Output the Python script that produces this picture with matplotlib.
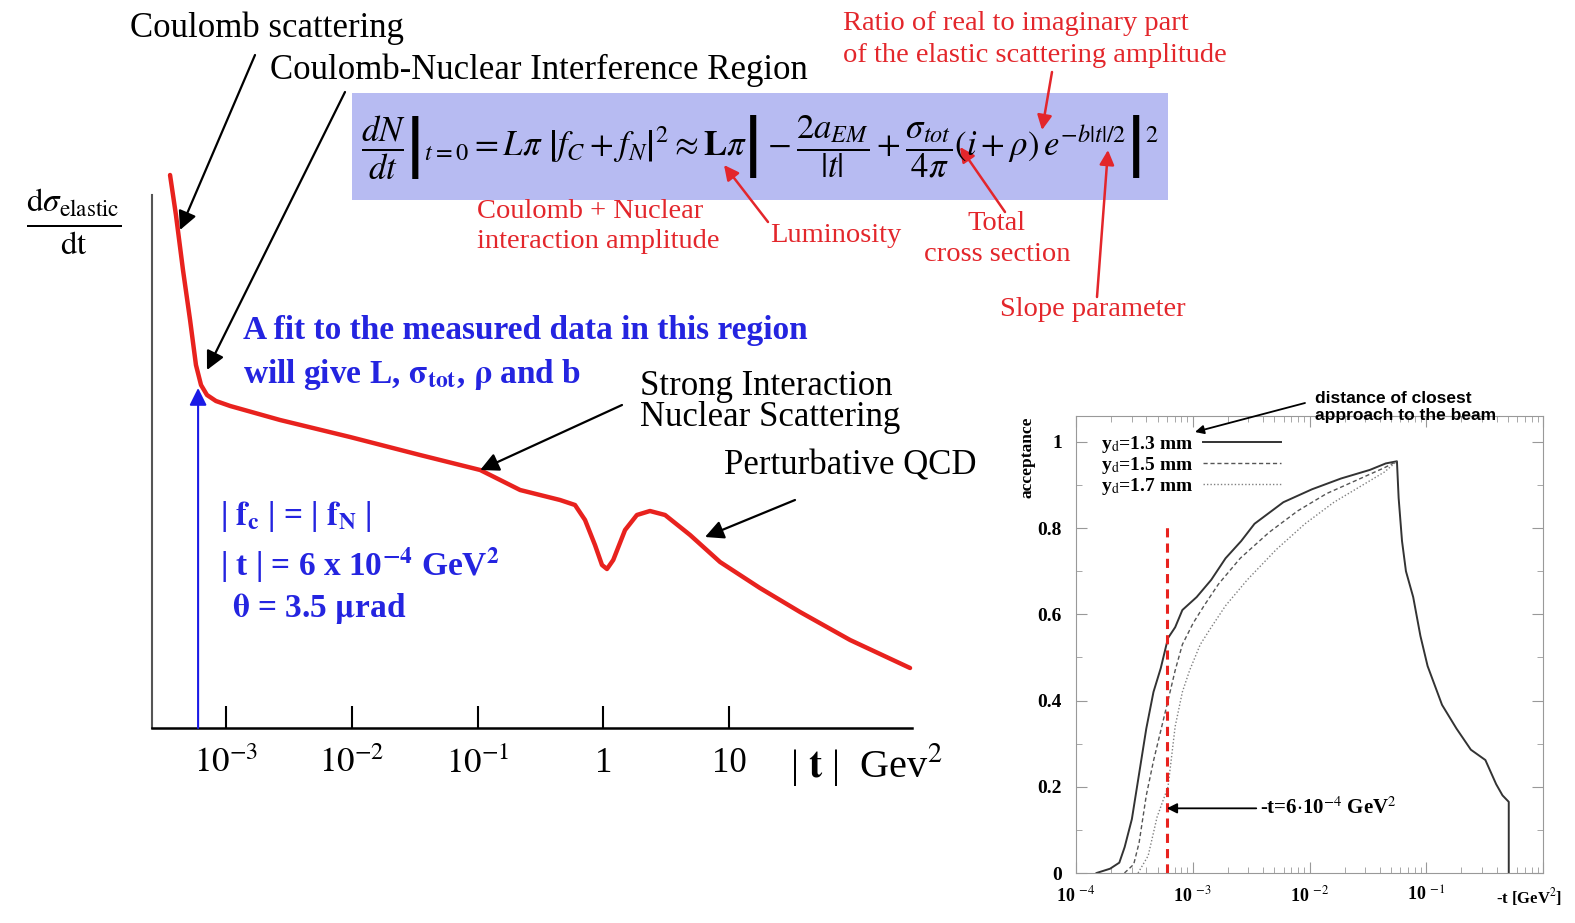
import matplotlib
matplotlib.use('Agg')
import matplotlib.pyplot as plt
from matplotlib.patches import Rectangle, FancyArrowPatch
from matplotlib.ticker import NullLocator, LogLocator, MultipleLocator
from matplotlib.transforms import ScaledTranslation

plt.rcParams['font.family'] = ['Liberation Serif', 'DejaVu Serif']
plt.rcParams['mathtext.fontset'] = 'stix'

W, H = 1575, 923

# main sketch: |t| [GeV^2] vs d(sigma)/dt (arbitrary units)
t_main = [3.59e-4, 4.0e-4, 4.55e-4, 5.18e-4, 5.77e-4, 6.33e-4, 7.06e-4, 8.32e-4,
          1.08e-3, 2.69e-3, 9.68e-3, 0.0349, 0.105, 0.218, 0.453, 0.596, 0.716,
          0.859, 0.977, 1.07, 1.20, 1.49, 1.85, 2.35, 3.10, 4.90, 8.48, 17.6,
          36.7, 91.7, 275]
dsig_main = [110.6, 102.6, 91.6, 81.6, 72.6, 68.6, 66.6, 65.4,
             64.4, 61.6, 58.2, 54.6, 51.6, 47.6, 45.6, 44.6, 41.6,
             36.6, 32.6, 31.8, 33.6, 39.6, 42.6, 43.4, 42.6, 38.6, 33.2, 28.0,
             23.2, 17.6, 12.0]
t_ref = 6e-4
main_ticks = [1e-3, 1e-2, 1e-1, 1, 10]
main_ticklabels = ['$10^{-3}$', '$10^{-2}$', '$10^{-1}$', '1', '10']

# acceptance for three distances of closest approach
t_13 = [1.5e-4, 1.96e-4, 2.35e-4, 2.61e-4, 3.01e-4, 3.47e-4, 4.0e-4, 4.61e-4,
        5.32e-4, 6.14e-4, 7.07e-4, 8.15e-4, 1.08e-3, 1.44e-3, 1.91e-3, 2.6e-3,
        3.38e-3, 5.97e-3, 0.0105, 0.0186, 0.0329, 0.045, 0.0561, 0.058, 0.062,
        0.067, 0.0773, 0.0891, 0.1027, 0.1365, 0.1815, 0.241, 0.321, 0.397,
        0.45, 0.509, 0.509]
acc_13 = [0, 0.01, 0.024, 0.06, 0.125, 0.23, 0.335, 0.42,
          0.475, 0.545, 0.57, 0.61, 0.64, 0.68, 0.73, 0.77,
          0.81, 0.86, 0.89, 0.915, 0.935, 0.95, 0.955, 0.87, 0.77,
          0.70, 0.64, 0.55, 0.48, 0.39, 0.335, 0.286, 0.262, 0.206,
          0.18, 0.165, 0]
t_15 = [2.6e-4, 3.12e-4, 3.47e-4, 4.0e-4, 4.61e-4, 5.32e-4, 6.14e-4, 7.07e-4,
        8.15e-4, 1.01e-3, 1.25e-3, 1.66e-3, 2.55e-3, 4.50e-3, 7.94e-3, 0.0140,
        0.0248, 0.0438, 0.0561]
acc_15 = [0, 0.02, 0.07, 0.18, 0.26, 0.33, 0.40, 0.47,
          0.53, 0.58, 0.62, 0.67, 0.73, 0.79, 0.84, 0.88,
          0.91, 0.94, 0.955]
t_17 = [3.4e-4, 4.15e-4, 4.95e-4, 6.14e-4, 7.07e-4, 8.15e-4, 9.4e-4, 1.16e-3,
        1.44e-3, 1.91e-3, 2.93e-3, 5.18e-3, 9.15e-3, 0.0162, 0.0286, 0.0438,
        0.0561]
acc_17 = [0, 0.04, 0.13, 0.20, 0.34, 0.42, 0.47, 0.53,
          0.57, 0.62, 0.68, 0.75, 0.81, 0.86, 0.90, 0.93,
          0.955]
inset_yticks = [0, 0.2, 0.4, 0.6, 0.8, 1]
inset_yticklabels = ['0', '0.2', '0.4', '0.6', '0.8', '1']
inset_xticks = [1e-4, 1e-3, 1e-2, 1e-1, 1]
inset_xticklabels = [r'10 $^{-4}$', r'10 $^{-3}$', r'10 $^{-2}$', r'10 $^{-1}$', r'-t [GeV$^2$]']


def fp(x, y):
    # pixel position measured from the top-left corner -> figure fraction
    return (x / W, 1 - y / H)


fig = plt.figure(figsize=(W / 100, H / 100), dpi=100)

# ---------------- main sketch ----------------
ax = fig.add_axes([152 / W, 1 - 728 / H, 760 / W, 568 / H])
ax.set_xscale('log')
ax.set_xlim(2.58e-4, 285)
ax.set_ylim(0, 113.6)
ax.plot(t_main, dsig_main, color='#e8221e', lw=3.2, solid_joinstyle='round',
        solid_capstyle='round', clip_on=False)
for s in ['top', 'right']:
    ax.spines[s].set_visible(False)
ax.spines['left'].set_bounds(0, 106.6)
ax.spines['left'].set_color('#555555')
ax.spines['left'].set_linewidth(1.5)
ax.spines['bottom'].set_linewidth(1.8)
ax.set_yticks([])
ax.set_xticks(main_ticks)
ax.set_xticklabels(main_ticklabels)
ax.xaxis.set_minor_locator(NullLocator())
ax.tick_params(axis='x', direction='in', length=16, width=1.5, pad=14, labelsize=25)

# blue arrow at |t| = 6e-4
ax.annotate('', xy=(t_ref, 68.0), xytext=(t_ref, 0),
            arrowprops=dict(arrowstyle='-|>', color='#1a1ae6', lw=1.5,
                            mutation_scale=26, shrinkA=0, shrinkB=0))

arr_k = dict(arrowstyle='-|>', color='black', lw=1.6, mutation_scale=28,
             shrinkA=0, shrinkB=0)
ax.annotate('', xy=(4.31e-4, 99.6), xytext=fp(255, 55), textcoords='figure fraction', arrowprops=arr_k)
ax.annotate('', xy=(7.06e-4, 71.6), xytext=fp(345, 92), textcoords='figure fraction', arrowprops=arr_k)
ax.annotate('', xy=(0.105, 51.6), xytext=fp(622, 405), textcoords='figure fraction', arrowprops=arr_k)
ax.annotate('', xy=(6.44, 38.2), xytext=fp(795, 500), textcoords='figure fraction', arrowprops=arr_k)

fig.text(*fp(130, 28), 'Coulomb scattering', fontsize=25, va='center')
fig.text(*fp(270, 70), 'Coulomb-Nuclear Interference Region', fontsize=25, va='center')
fig.text(*fp(640, 402), 'Strong Interaction\nNuclear Scattering', fontsize=25,
         va='center', linespacing=0.9)
fig.text(*fp(724, 466), 'Perturbative QCD', fontsize=25, va='center')
fig.text(*fp(790, 765), r'| $\mathbf{t}$ |  Gev$^2$', fontsize=29, va='center')
fig.text(*fp(74, 222), r'$\frac{\mathrm{d}\sigma_{\mathrm{elastic}}}{\mathrm{dt}}$',
         fontsize=34, va='center', ha='center')

blue = '#2424e0'
fig.text(*fp(243, 331), 'A fit to the measured data in this region', fontsize=24,
         fontweight='bold', color=blue, va='center')
fig.text(*fp(243, 374), r'will give L, $\mathbf{\sigma_{tot}}$, $\mathbf{\rho}$ and b',
         fontsize=24, fontweight='bold', color=blue, va='center')
fig.text(*fp(220, 517), r'| $\mathbf{f_c}$ | = | $\mathbf{f_N}$ |', fontsize=24,
         fontweight='bold', color=blue, va='center')
fig.text(*fp(220, 565), r'| t | = 6 x 10$^{\mathbf{-4}}$ GeV$^{\mathbf{2}}$', fontsize=24,
         fontweight='bold', color=blue, va='center')
fig.text(*fp(232, 608), r'$\mathbf{\theta}$ = 3.5 $\mathbf{\mu}$rad', fontsize=24,
         fontweight='bold', color=blue, va='center')

# formula box
fig.patches.append(Rectangle(fp(352, 200), 816 / W, 107 / H, transform=fig.transFigure,
                             facecolor='#b7bbf2', edgecolor='none', zorder=0))
formula = (r'$\left.\dfrac{dN}{dt}\right|_{t=0} = L\pi\ \left|f_C + f_N\right|^2 \approx '
           r'\mathbf{L}\pi \left| -\dfrac{2a_{EM}}{|t|} + \dfrac{\sigma_{tot}}{4\pi}'
           r'(i+\rho)\,e^{-b|t|/2}\right|^2$')
fig.text(*fp(760, 148), formula, fontsize=25, ha='center', va='center')

red = '#e3262b'
fig.text(*fp(843, 24), 'Ratio of real to imaginary part', fontsize=20.5, color=red, va='center')
fig.text(*fp(843, 55), 'of the elastic scattering amplitude', fontsize=20.5, color=red, va='center')
fig.text(*fp(477, 212), 'Coulomb + Nuclear', fontsize=20.5, color=red, va='center')
fig.text(*fp(477, 241), 'interaction amplitude', fontsize=20.5, color=red, va='center')
fig.text(*fp(770, 235), 'Luminosity', fontsize=20.5, color=red, va='center')
fig.text(*fp(996, 223), 'Total', fontsize=20.5, color=red, va='center', ha='center')
fig.text(*fp(997, 255), 'cross section', fontsize=20.5, color=red, va='center', ha='center')
fig.text(*fp(1000, 310), 'Slope parameter', fontsize=20.5, color=red, va='center')

arr_r = dict(arrowstyle='-|>', color=red, lw=1.8, mutation_scale=22, shrinkA=0, shrinkB=0)
for tail, tip in [((1052, 72), (1042, 130)), ((768, 222), (724, 165)),
                  ((1005, 212), (960, 147)), ((1097, 297), (1108, 150))]:
    fig.add_artist(FancyArrowPatch(fp(*tail), fp(*tip), transform=fig.transFigure, **arr_r))

# ---------------- acceptance inset ----------------
ax2 = fig.add_axes([1076 / W, 1 - 873 / H, 467 / W, 457 / H])
ax2.set_xscale('log')
ax2.set_xlim(1e-4, 1)
ax2.set_ylim(0, 1.06)
ax2.plot(t_13, acc_13, color='#333333', lw=1.4, label=r'y$_{\rm d}$=1.3 mm')
ax2.plot(t_15, acc_15, color='#555555', lw=1.0, ls=(0, (3, 2)), label=r'y$_{\rm d}$=1.5 mm')
ax2.plot(t_17, acc_17, color='#808080', lw=1.0, ls=(0, (1, 1.5)), label=r'y$_{\rm d}$=1.7 mm')
ax2.vlines(t_ref, 0, 0.81, colors='#e8221e', linestyles=(0, (3, 2)), lw=2.2)
ax2.annotate('', xy=(t_ref, 0.15), xytext=(3.5e-3, 0.15),
             arrowprops=dict(arrowstyle='-|>', color='black', lw=1.3, mutation_scale=15,
                             shrinkA=0, shrinkB=0))
ax2.text(3.8e-3, 0.15, r'-t=6$\cdot$10$^{-4}$ GeV$^2$', fontsize=15, fontweight='bold',
         va='center')
leg = ax2.legend(loc='upper left', bbox_to_anchor=(0.025, 0.99), markerfirst=False,
                 frameon=False, handlelength=4.0, handletextpad=0.5, labelspacing=0.0,
                 borderpad=0.2, prop=dict(family='Liberation Serif', weight='bold', size=14))
for s in ax2.spines.values():
    s.set_color('#999999')
ax2.set_yticks(inset_yticks)
ax2.set_yticklabels(inset_yticklabels)
ax2.yaxis.set_minor_locator(MultipleLocator(0.1))
ax2.set_xticks(inset_xticks)
ax2.set_xticklabels(inset_xticklabels)
ax2.xaxis.set_minor_locator(LogLocator(base=10, subs=range(2, 10), numticks=20))
ax2.tick_params(which='both', direction='in', top=True, right=True, color='#999999')
ax2.tick_params(which='major', length=8)
ax2.tick_params(which='minor', length=4)
ax2.tick_params(axis='y', labelsize=14, pad=10)
ax2.tick_params(axis='x', labelsize=13, pad=9)
for lab in ax2.get_xticklabels() + ax2.get_yticklabels():
    lab.set_fontweight('bold')
last = ax2.get_xticklabels()[-1]
last.set_fontsize(12)
last.set_transform(last.get_transform() + ScaledTranslation(-0.14, 0, fig.dpi_scale_trans))
fig.text(*fp(1028, 457), 'acceptance', rotation=90, fontsize=12.5, fontweight='bold',
         ha='center', va='center')
fig.text(*fp(1315, 407), 'distance of closest\napproach to the beam', fontsize=12.5,
         fontweight='bold', family='Liberation Sans', va='center', linespacing=1.15)
fig.add_artist(FancyArrowPatch(fp(1305, 403), fp(1195, 432), transform=fig.transFigure,
                               arrowstyle='-|>', color='black', lw=1.3,
                               mutation_scale=13, shrinkA=0, shrinkB=0))

fig.savefig('out.png', dpi=100)
